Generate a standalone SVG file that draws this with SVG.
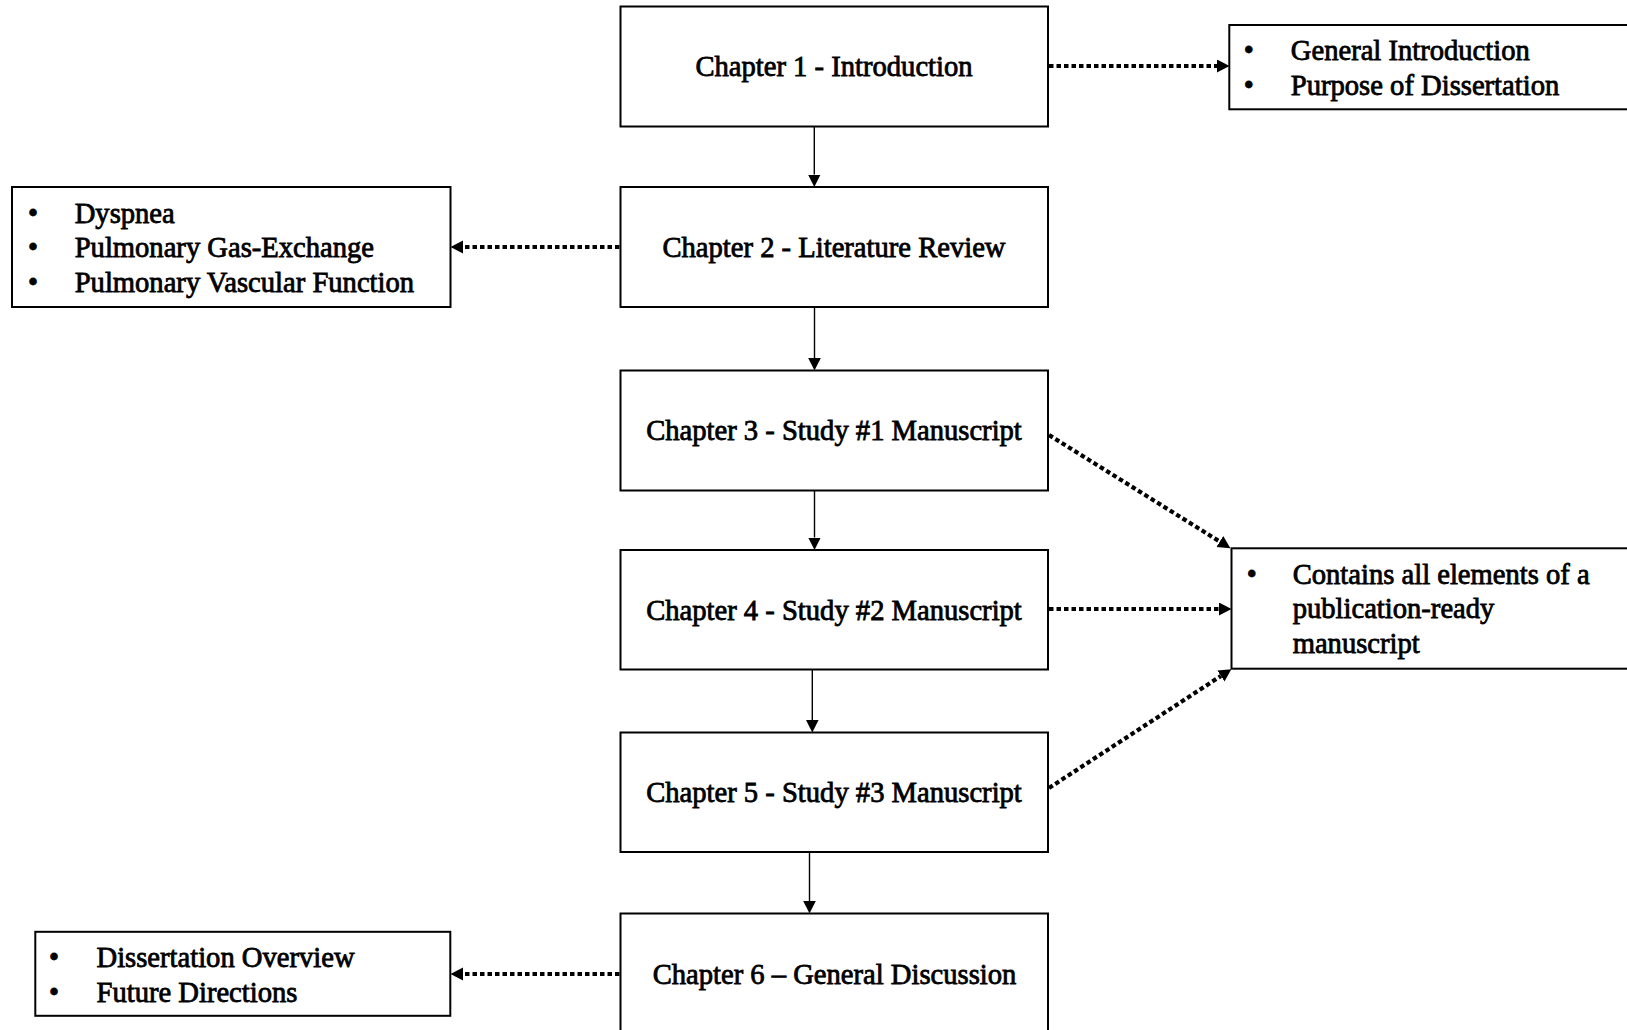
<svg xmlns="http://www.w3.org/2000/svg" width="1627" height="1030" viewBox="0 0 1627 1030">
<style>
.box{fill:#fff;stroke:#000;stroke-width:2}
.t{font-family:"Liberation Serif","Times New Roman",serif;font-size:28.6px;fill:#000;stroke:#000;stroke-width:0.8}
.c{text-anchor:middle}
.b{text-anchor:middle}
.solid{stroke:#000;stroke-width:1.4;fill:none}
.dot{stroke:#000;stroke-width:4.2;stroke-dasharray:4.5 3;fill:none}
</style>
<defs>
<marker id="ah" markerUnits="userSpaceOnUse" markerWidth="13" markerHeight="13" refX="0" refY="6.3" orient="auto">
<path d="M0,0 L12.5,6.3 L0,12.6 z" fill="#000"/>
</marker>
<marker id="ahd" markerUnits="userSpaceOnUse" markerWidth="14" markerHeight="14" refX="0" refY="6.5" orient="auto">
<path d="M0,0 L12.5,6.5 L0,13 z" fill="#000"/>
</marker>
</defs>
<rect x="0" y="0" width="1627" height="1030" fill="#fff"/>

<g id="connectors">
<line class="solid" x1="814.3" y1="126.5" x2="814.3" y2="174.5" marker-end="url(#ah)"/>
<line class="solid" x1="814.5" y1="307" x2="814.5" y2="358" marker-end="url(#ah)"/>
<line class="solid" x1="814.5" y1="490.5" x2="814.5" y2="537.5" marker-end="url(#ah)"/>
<line class="solid" x1="812.3" y1="669.5" x2="812.3" y2="720" marker-end="url(#ah)"/>
<line class="solid" x1="809.5" y1="852" x2="809.5" y2="901" marker-end="url(#ah)"/>
<line class="dot" x1="1049" y1="66" x2="1217" y2="66" marker-end="url(#ahd)"/>
<line class="dot" x1="619.5" y1="247" x2="463" y2="247" marker-end="url(#ahd)"/>
<line class="dot" x1="1049" y1="435" x2="1219.8" y2="541.6" marker-end="url(#ahd)"/>
<line class="dot" x1="1049" y1="609" x2="1219" y2="609" marker-end="url(#ahd)"/>
<line class="dot" x1="1049" y1="788" x2="1220.9" y2="676" marker-end="url(#ahd)"/>
<line class="dot" x1="619.5" y1="974" x2="463" y2="974" marker-end="url(#ahd)"/>
</g>

<g id="ch1">
<rect class="box" x="620.5" y="6.5" width="427.5" height="120"/>
<text class="t c" x="834" y="76">Chapter 1 - Introduction</text>
</g>
<g id="ch2">
<rect class="box" x="620.5" y="187" width="427.5" height="120"/>
<text class="t c" x="834" y="256.5">Chapter 2 - Literature Review</text>
</g>
<g id="ch3">
<rect class="box" x="620.5" y="370.5" width="427.5" height="120"/>
<text class="t c" x="834" y="440">Chapter 3 - Study #1 Manuscript</text>
</g>
<g id="ch4">
<rect class="box" x="620.5" y="550" width="427.5" height="119.5"/>
<text class="t c" x="834" y="619.5">Chapter 4 - Study #2 Manuscript</text>
</g>
<g id="ch5">
<rect class="box" x="620.5" y="732.5" width="427.5" height="119.5"/>
<text class="t c" x="834" y="802">Chapter 5 - Study #3 Manuscript</text>
</g>
<g id="ch6">
<rect class="box" x="620.5" y="913.5" width="427.5" height="125"/>
<text class="t c" x="834.5" y="983.5">Chapter 6 – General Discussion</text>
</g>

<g id="intro-notes">
<rect class="box" x="1229.3" y="25" width="410" height="84.3"/>
<text class="t b" x="1248.7" y="60">•</text>
<text class="t" x="1290.8" y="60">General Introduction</text>
<text class="t b" x="1248.7" y="94.5">•</text>
<text class="t" x="1290.8" y="94.5">Purpose of Dissertation</text>
</g>
<g id="review-notes">
<rect class="box" x="12" y="187" width="438.5" height="120"/>
<text class="t b" x="33" y="222.5">•</text>
<text class="t" x="74.7" y="222.5">Dyspnea</text>
<text class="t b" x="33" y="257">•</text>
<text class="t" x="74.7" y="257">Pulmonary Gas-Exchange</text>
<text class="t b" x="33" y="291.5">•</text>
<text class="t" x="74.7" y="291.5">Pulmonary Vascular Function</text>
</g>
<g id="manuscript-notes">
<rect class="box" x="1231.5" y="548.3" width="410" height="120.4"/>
<text class="t b" x="1251.7" y="583.5">•</text>
<text class="t" x="1292.7" y="583.5">Contains all elements of a</text>
<text class="t" x="1292.7" y="618">publication-ready</text>
<text class="t" x="1292.7" y="652.5">manuscript</text>
</g>
<g id="discussion-notes">
<rect class="box" x="35.3" y="931.8" width="415" height="84"/>
<text class="t b" x="54" y="967">•</text>
<text class="t" x="96.5" y="967">Dissertation Overview</text>
<text class="t b" x="54" y="1001.5">•</text>
<text class="t" x="96.5" y="1001.5">Future Directions</text>
</g>
</svg>
